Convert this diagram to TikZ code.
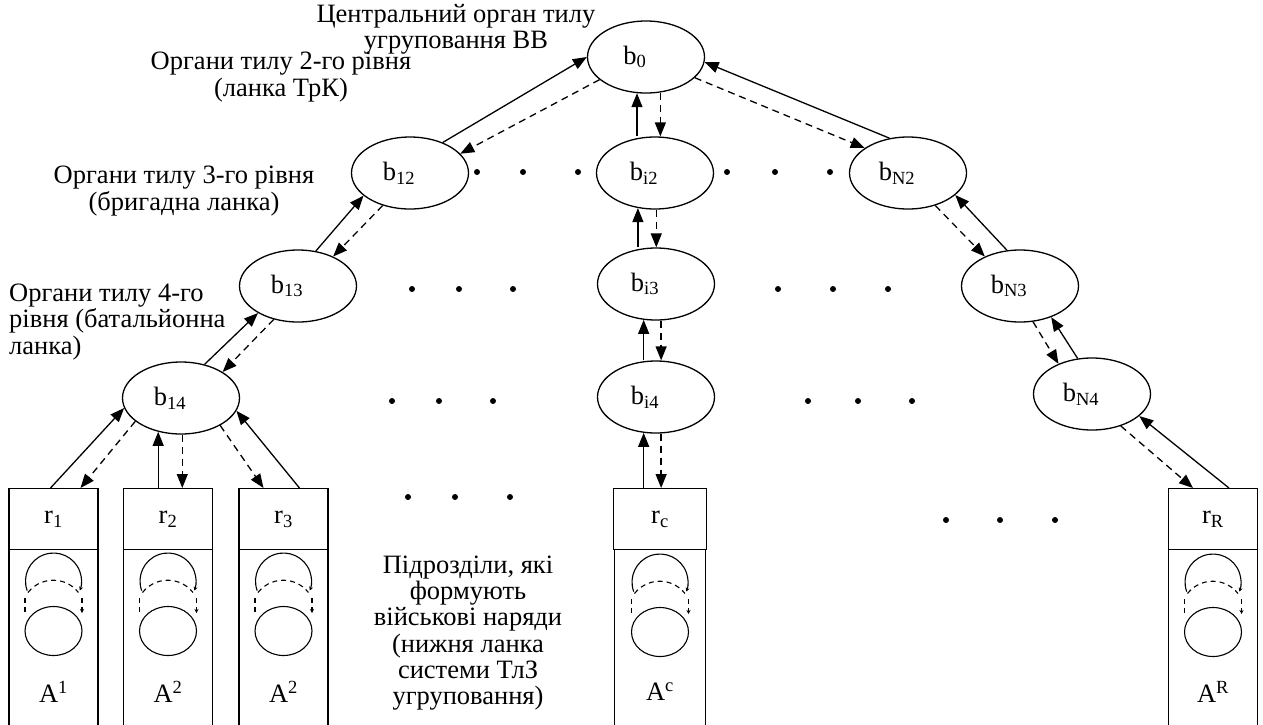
\documentclass[tikz,border=0pt]{standalone}
\usepackage{fontspec}
\setmainfont{Liberation Serif}
\usepackage{tikz}
\usetikzlibrary{shapes.geometric,arrows.meta}
\tikzset{>={Triangle[length=14pt,width=11pt]}}
\tikzset{
  bnode/.style={ellipse, draw, line width=1.3pt, minimum width=117pt, minimum height=72pt, inner sep=0pt},
  rbox/.style={rectangle, draw, line width=1.3pt, minimum width=89pt, minimum height=61pt, inner sep=0pt, anchor=north},
  abox/.style={rectangle, draw, line width=1.3pt, minimum width=89pt, minimum height=182pt, inner sep=0pt, anchor=north},
  up/.style={line width=1.3pt, ->},
  down/.style={line width=1.3pt, dash pattern=on 7pt off 5pt, ->},
  lbl/.style={align=center, inner sep=0pt},
  cyc/.pic={
    \draw[line width=1.1pt, -{Stealth[length=4pt,width=4pt]}] (-26.3,-40.4) arc[start angle=200, end angle=-20, radius=28pt];
    \draw[line width=1.1pt, dash pattern=on 5pt off 4pt] (-25.5,-38.5) arc[start angle=142, end angle=38, radius=32pt];
    \draw[line width=1.1pt, dash pattern=on 5pt off 4pt] (-28.5,-33) -- (-28.5,-18);
    \draw[line width=1.1pt, dash pattern=on 5pt off 4pt, -{Stealth[length=4pt,width=4pt]}] (28.5,-33) -- (28.5,-18);
    \draw[line width=1.1pt] (0,0) ellipse [x radius=28.5pt, y radius=24.5pt];
  }
}
\newcommand{\bsub}[1]{\hspace*{-22pt}b\textsubscript{#1}}

\begin{document}
\begin{tikzpicture}[x=1pt, y=-1pt, font=\fontsize{26.5}{26.3}\selectfont]
      \useasboundingbox (0,0) rectangle (1263,724);

      \node[bnode] at (646,57)   (b0)  {\bsub{0}};
      \node[bnode] at (410,173)  (b12) {\bsub{12}};
      \node[bnode] at (298,286)  (b13) {\bsub{13}};
      \node[bnode] at (181,398)  (b14) {\bsub{14}};
      \node[bnode] at (655,173)  (bi2) {\bsub{i2}};
      \node[bnode] at (656,284)  (bi3) {\bsub{i3}};
      \node[bnode] at (656,397)  (bi4) {\bsub{i4}};
      \node[bnode] at (908,173)  (bN2) {\bsub{N2}};
      \node[bnode] at (1020,286) (bN3) {\bsub{N3}};
      \node[bnode] at (1092,394) (bN4) {\bsub{N4}};

      \node[rbox] at (53.5,488) (r1) {r\textsubscript{1}};
      \node[rbox] at (168,488)  (r2) {r\textsubscript{2}};
      \node[rbox] at (283.5,488) (r3) {r\textsubscript{3}};
      \node[rbox, minimum width=93pt] at (660,488) (rc) {r\textsubscript{c}};
      \node[rbox] at (1213,488) (rR) {r\textsubscript{R}};
      \node[abox] at (53.5,549)  (a1) {};
      \node[abox] at (168,549)   (a2) {};
      \node[abox] at (283.5,549) (a3) {};
      \node[abox, minimum width=91pt] at (660,549) (ac) {};
      \node[abox] at (1213,549)  (aR) {};
      \node at (53.5,692) (l1) {A\textsuperscript{1}};
      \node at (168,692)  (l2) {A\textsuperscript{2}};
      \node at (283.5,692) (l3) {A\textsuperscript{2}};
      \node at (660,692)  (lc) {A\textsuperscript{c}};
      \node at (1213,692) (lR) {A\textsuperscript{R}};
      \pic at (53.5,631) {cyc};
      \pic at (168,631)  {cyc};
      \pic at (283.5,631) {cyc};
      \pic at (660,632)  {cyc};
      \pic at (1213,632) {cyc};

      \node[lbl] at (456,29)  (t0) {Центральний орган тилу\\угруповання ВВ};
      \node[lbl] at (281,77)  (t2) {Органи тилу 2-го рівня\\(ланка ТрК)};
      \node[lbl] at (184,191) (t3) {Органи тилу 3-го рівня\\(бригадна ланка)};
      \node[lbl, align=left, anchor=west] at (9,322) (t4) {Органи тилу 4-го\\рівня (батальйонна\\ланка)};
      \node[lbl] at (468,633) (tu) {Підрозділи, які\\формують\\військові наряди\\(нижня ланка\\системи ТлЗ\\угруповання)};

      \foreach \x/\y in {477/172,523/172,578/172,727/172,775/172,830/172,
                         412/289,459/289,513/289,778/289,833/289,888/289,
                         392/401,439/401,493/401,808/401,858/401,912/401,
                         408/497,455/497,510/497,946/520,1000/520,1055/520}
        \fill (\x,\y) circle[radius=3pt];

      \draw[up] (b12.43) -- (b0.180);
      \draw[down] (b0.206) -- (b12.21);
      \draw[up] (b13.63) -- (b12.206);
      \draw[down] (b12.230) -- (b13.40);
      \draw[up] (b14.55) -- (b13.214);
      \draw[down] (b13.234) -- (b14.32);
      \draw[up] ([xshift=-3pt]r1.north) -- (b14.190);
      \draw[down] (b14.207) -- ([xshift=27pt]r1.north);
      \draw[up] (b14.236 |- r2.north) -- (b14.236);
      \draw[down] (b14.272) -- (b14.272 |- r2.north);
      \draw[up] ([xshift=16pt]r3.north) -- (b14.347);
      \draw[down] (b14.325) -- ([xshift=-20pt]r3.north);

      \draw[up] (b0.256 |- bi2.north) -- (b0.256);
      \draw[down] (b0.292) -- (b0.292 |- bi2.north);
      \draw[up] (bi2.244 |- bi3.north) -- (bi2.244);
      \draw[down] (bi2.272) -- (bi2.272 |- bi3.north);
      \draw[up] (bi3.251 |- bi4.north) -- (bi3.251);
      \draw[down] (bi3.278) -- (bi3.278 |- bi4.north);
      \draw[up] (bi4.251 |- rc.north) -- (bi4.251);
      \draw[down] (bi4.278) -- (bi4.278 |- rc.north);

      \draw[up] (bN2.118) -- (b0.355);
      \draw[down] (b0.337) -- (bN2.150);
      \draw[up] (bN3.110) -- (bN2.335);
      \draw[down] (bN2.310) -- (bN3.140);
      \draw[up] (bN4.112) -- (bN3.315);
      \draw[down] (bN3.290) -- (bN4.138);
      \draw[up] ([xshift=16pt]rR.north) -- (bN4.335);
      \draw[down] (bN4.312) -- ([xshift=-20pt]rR.north);
\end{tikzpicture}
\end{document}
